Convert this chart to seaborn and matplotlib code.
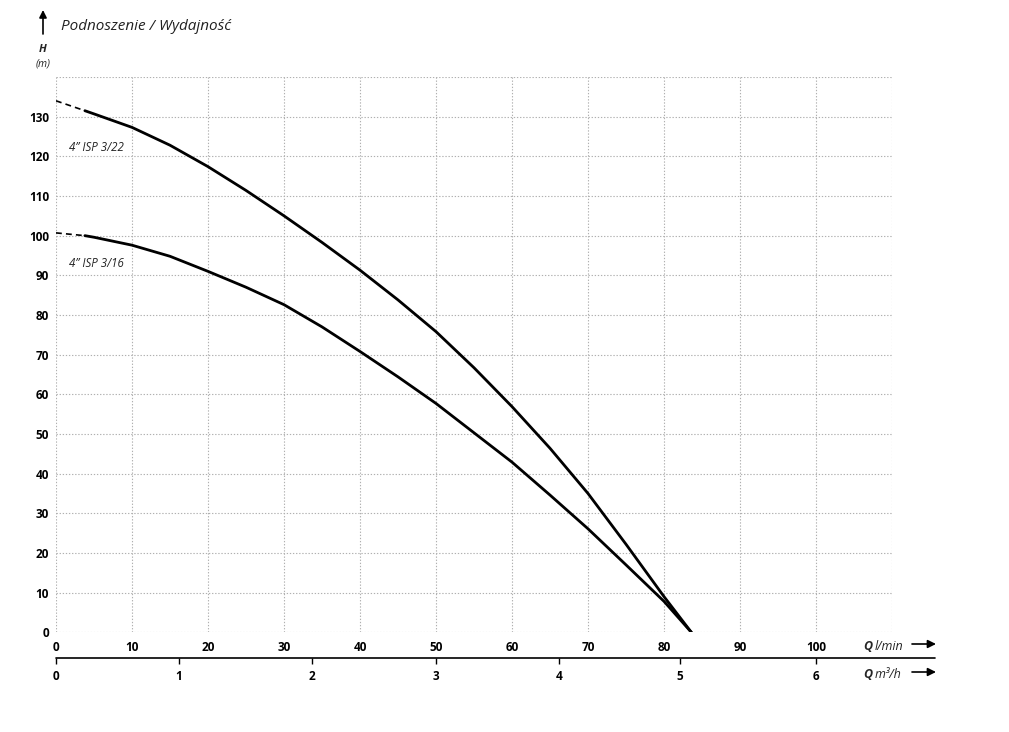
"""
Pump curves H(Q) for 4" ISP 3/16 and 4" ISP 3/22, redrawn from the datasheet chart.
Saves: out.png
"""

import matplotlib.pyplot as plt
import seaborn as sns

# =============================================================================
# DATA
# =============================================================================

# flow points, l/min (solid part of both curves)
Q_LMIN = [3.8, 5, 10, 15, 20, 25, 30, 35, 40, 45, 50, 55, 60, 65, 70, 75, 80, 83.6]
H_ISP_322 = [131.5, 130.7, 127.3, 122.8, 117.4, 111.4, 105.0, 98.3, 91.3, 83.8,
             75.8, 66.7, 56.9, 46.4, 35.0, 22.2, 9.0, 0.0]
H_ISP_316 = [100.0, 99.6, 97.6, 94.8, 91.0, 87.0, 82.6, 77.0, 70.8, 64.4,
             57.7, 50.3, 42.9, 34.6, 26.1, 17.0, 7.8, 0.0]

# dashed start (shut-off head to first measured point)
Q_DASH = [0, 3.8]
H_DASH_322 = [134.0, 131.5]
H_DASH_316 = [100.7, 100.0]

CURVE_LABELS = ['4\u201d ISP 3/22', '4\u201d ISP 3/16']

X_TICKS = list(range(0, 111, 10))
X_LABELS = [str(v) for v in range(0, 101, 10)] + ['']
Y_TICKS = list(range(0, 141, 10))
Y_LABELS = [str(v) for v in range(0, 131, 10)] + ['']

# second flow scale (m3/h), positions as printed on the l/min scale
M3H_LABELS = ['0', '1', '2', '3', '4', '5', '6']
M3H_POS = [0, 16.2, 33.7, 50.0, 66.2, 82.1, 100.0]

W, H = 1009, 732


def px(x, y):
    """Image pixel -> figure fraction."""
    return x / W, 1 - y / H


# =============================================================================
# PLOT
# =============================================================================

sns.set_theme(style='white')
plt.rcParams['font.family'] = ['Open Sans', 'DejaVu Sans']

fig = plt.figure(figsize=(W / 100, H / 100), dpi=100)
ax = fig.add_axes([56 / W, 1 - 632.3 / H, (892 - 56) / W, (632.3 - 77) / H])

for h_solid, h_dash in [(H_ISP_322, H_DASH_322), (H_ISP_316, H_DASH_316)]:
    sns.lineplot(x=Q_LMIN, y=h_solid, color='black', lw=2.0, ax=ax)
    sns.lineplot(x=Q_DASH, y=h_dash, color='black', lw=1.2,
                 linestyle=(0, (3.5, 2.5)), ax=ax)

ax.set_xlim(0, 110)
ax.set_ylim(0, 140)
ax.set_xticks(X_TICKS, X_LABELS)
ax.set_yticks(Y_TICKS, Y_LABELS)
ax.tick_params(axis='both', length=0, labelsize=8.5, colors='black')
ax.tick_params(axis='x', pad=6)
ax.tick_params(axis='y', pad=5)
for lbl in ax.get_xticklabels() + ax.get_yticklabels():
    lbl.set_fontweight('bold')
ax.grid(True, color='#b0b0b0', lw=0.8, linestyle=(0, (1.2, 1.6)))
for s in ax.spines.values():
    s.set_visible(False)

# curve labels
ax.text(1.7, 121.4, CURVE_LABELS[0], fontsize=8.3, style='italic', color='#222222')
ax.text(1.7, 92.2, CURVE_LABELS[1], fontsize=8.3, style='italic', color='#222222')

# m3/h scale below
sec = ax.secondary_xaxis(-0.047)
sec.set_xticks(M3H_POS, M3H_LABELS)
sec.tick_params(axis='x', length=4.5, width=1.0, pad=4, labelsize=8.5, colors='black')
for lbl in sec.get_xticklabels():
    lbl.set_fontweight('bold')
sec.spines['bottom'].set_visible(False)
ax.plot([0, (935 - 56) / (892 - 56)], [-0.047, -0.047], transform=ax.transAxes,
        color='black', lw=1.2, clip_on=False)

# axis names and arrows
fig.text(*px(863, 646), 'Q', fontsize=9, weight='bold', style='italic', va='center')
fig.text(*px(875, 646), 'l/min', fontsize=9, style='italic', va='center')
fig.text(*px(863, 674), 'Q', fontsize=9, weight='bold', style='italic', va='center')
fig.text(*px(875, 674), 'm\u00b3/h', fontsize=9, style='italic', va='center')
for y in (644, 672):
    ax.annotate('', xy=px(936, y), xytext=px(912, y), xycoords='figure fraction',
                textcoords='figure fraction',
                arrowprops=dict(arrowstyle='-|>', color='black', lw=1.2,
                                mutation_scale=12, shrinkA=0, shrinkB=0))

ax.annotate('', xy=px(43, 10), xytext=px(43, 34), xycoords='figure fraction',
            textcoords='figure fraction',
            arrowprops=dict(arrowstyle='-|>', color='black', lw=1.2,
                            mutation_scale=11, shrinkA=0, shrinkB=0))
fig.text(*px(61, 26), 'Podnoszenie / Wydajno\u015b\u0107', fontsize=11, style='italic',
         va='center', color='#222222')
fig.text(*px(43, 50), 'H', fontsize=8, weight='bold', style='italic', ha='center', va='center')
fig.text(*px(43, 64), '(m)', fontsize=7.5, style='italic', ha='center', va='center')

fig.savefig('out.png', dpi=100, facecolor='white')
